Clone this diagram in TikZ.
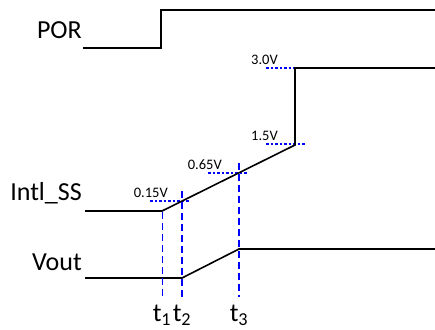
\documentclass[tikz,border=0pt]{standalone}
\usepackage{fontspec}
\setmainfont{Carlito}
\usetikzlibrary{positioning}

\begin{document}
\begin{tikzpicture}[
    x=1pt, y=-1pt,
    wave/.style={line width=1.6pt, draw=black, line join=miter},
    marker/.style={draw=blue, dash pattern=on 7pt off 4pt},
    level/.style={draw=blue, line width=1.6pt, dash pattern=on 2.5pt off 2pt},
    signame/.style={font=\fontsize{26}{28}\selectfont, anchor=east, inner sep=0pt},
    vlabel/.style={font=\fontsize{14.5}{16}\selectfont, anchor=base east, inner sep=0pt},
    tlabel/.style={font=\fontsize{26}{28}\selectfont, inner sep=0pt}
]
    \useasboundingbox (0,0) rectangle (435,329);

    % Signal names
    \node [signame] (por)  at (82, 30)  {POR};
    \node [signame] (intl) at (82, 193) {Intl\_SS};
    \node [signame] (vout) at (82, 262) {Vout};

    % Voltage levels (dotted)
    \foreach \n/\xa/\xb/\y/\txt/\xt in {a/150/190/201/0.15V/168, b/208/248/173/0.65V/222,
                                     c/266/306/144/1.5V/278, d/266/306/68/3.0V/278} {
        \coordinate (lv\n s) at (\xa, \y);
        \coordinate (lv\n e) at (\xb, \y);
        \draw [level] (lv\n s) -- (lv\n e);
        \node [vlabel] (lab\n) at (\xt, \y-4) {\txt};
    }

    % Waveforms
    \coordinate (p0) at (83, 48);
    \coordinate (p1) at (161, 48);
    \coordinate (p2) at (161, 10);
    \coordinate (p3) at (435, 10);
    \draw [wave] (p0) -- (p1) -- (p2) -- (p3);

    \coordinate (s0) at (85, 211);
    \coordinate (s1) at (162, 211);
    \coordinate (s2) at (295, 145);
    \coordinate (s3) at (295, 68);
    \coordinate (s4) at (435, 68);
    \draw [wave] (s0) -- (s1) -- (s2) -- (s3) -- (s4);

    \coordinate (v0) at (85, 278);
    \coordinate (v1) at (182, 278);
    \coordinate (v2) at (239, 249);
    \coordinate (v3) at (435, 249);
    \draw [wave] (v0) -- (v1) -- (v2) -- (v3);

    % Time markers (dashed)
    \foreach \n/\x/\top/\w in {1/162/212/1.0pt, 2/182/191/1.8pt, 3/239/163/1.3pt} {
        \coordinate (t\n top) at (\x, \top);
        \coordinate (t\n bot) at (\x, 297);
        \draw [marker, line width=\w] (t\n top) -- (t\n bot);
        \node [tlabel, below=8pt of t\n bot] (t\n lab) {t\textsubscript{\n}};
    }

\end{tikzpicture}
\end{document}
